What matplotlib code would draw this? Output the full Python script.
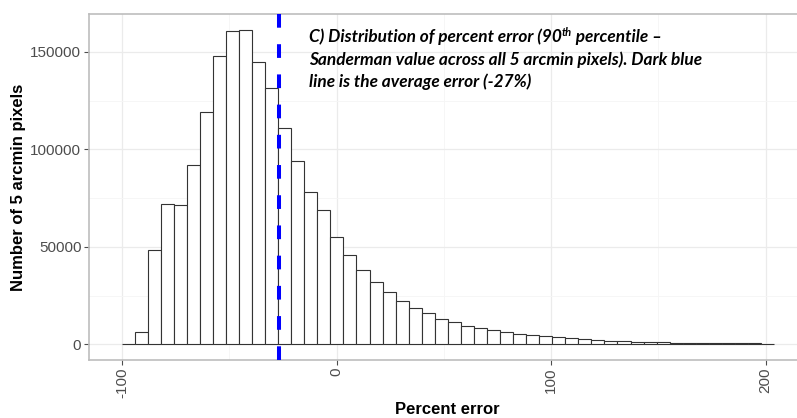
import numpy as np
import matplotlib
matplotlib.use("Agg")
import matplotlib.pyplot as plt

# histogram of percent error (counts per bin, 50 equal bins)
bin_lo, bin_hi = -100.3, 203.9
counts = [300, 6500, 48300, 72000, 71300, 92000, 119000, 148000, 160600, 161300,
          144500, 131600, 111100, 93900, 78100, 68600, 55200, 45700, 37900, 31700,
          26800, 22300, 18600, 15900, 13100, 11400, 9500, 8500, 7200, 6100,
          5300, 4500, 4100, 3600, 3100, 2600, 2100, 1700, 1500, 1200,
          1000, 1000, 850, 800, 750, 650, 550, 500, 400, 300]
mean_error = -27
x_ticks = [-100, 0, 100, 200]
y_ticks = [0, 50000, 100000, 150000]
note_lines = ["C) Distribution of percent error (90",
              "Sanderman value across all 5 arcmin pixels). Dark blue",
              "line is the average error (-27%)"]

W, H = 797, 418
fig = plt.figure(figsize=(W / 100, H / 100), dpi=100)

edges = np.linspace(bin_lo, bin_hi, len(counts) + 1)
xr = bin_hi - bin_lo
xlim = (bin_lo - 0.05 * xr, bin_hi + 0.05 * xr)
ymax = max(counts)
ylim = (-0.05 * ymax, 1.05 * ymax)

# panel: left edge at 89px, top 14px, bottom 360px, runs past the right edge
px_per_unit = 2.1447
ax_w = (xlim[1] - xlim[0]) * px_per_unit
ax = fig.add_axes([89 / W, (H - 360) / H, ax_w / W, 346 / H])

ax.bar(edges[:-1], counts, width=np.diff(edges), align="edge",
       facecolor="white", edgecolor="#333333", linewidth=0.8, zorder=2)

# average error line, dashes starting at the top of the panel
ln, = ax.plot([mean_error, mean_error], [1, 0], transform=ax.get_xaxis_transform(),
              color="#0000ff", linewidth=2.9, zorder=3)
ln.set_dashes((3.4, 4.1))
ln.set_dash_capstyle("butt")

ax.set_xlim(xlim)
ax.set_ylim(ylim)
ax.set_xticks(x_ticks)
ax.set_yticks(y_ticks)
ax.set_xticks([-50, 50, 150], minor=True)
ax.set_yticks([25000, 75000, 125000], minor=True)
ax.set_xticklabels([str(t) for t in x_ticks], rotation=90, va="top")
ax.set_yticklabels([str(t) for t in y_ticks])

ax.grid(which="major", color="#ebebeb", linewidth=0.9, zorder=0)
ax.grid(which="minor", color="#f5f5f5", linewidth=0.6, zorder=0)
ax.set_axisbelow(True)

ax.tick_params(which="major", length=3.5, width=0.8, color="#4d4d4d",
               labelcolor="#4d4d4d", labelsize=11, pad=2)
ax.tick_params(which="minor", length=0)
for lab in ax.get_xticklabels() + ax.get_yticklabels():
    lab.set_fontfamily("Liberation Sans")
for s in ax.spines.values():
    s.set_color("#bdbdbd")
    s.set_linewidth(1.2)
ax.spines["right"].set_visible(False)

fig.text(447.8 / W, 1 - 409 / H, "Percent error", ha="center", va="center",
         fontsize=12, fontweight="bold", family="Liberation Sans")
fig.text(18.5 / W, 1 - 187 / H, "Number of 5 arcmin pixels", ha="center", va="center",
         rotation=90, fontsize=12, fontweight="bold", family="Liberation Sans")

# annotation, with a raised "th" after 90
note_style = dict(fontsize=12.4, fontweight="bold", style="italic", family="Lato",
                  color="black", va="baseline", ha="left")
x0 = 309 / W
t1 = fig.text(x0, 1 - 42 / H, note_lines[0], **note_style)
fig.canvas.draw()
r = fig.canvas.get_renderer()
bb = t1.get_window_extent(r)
sup_style = dict(note_style, fontsize=8)
t2 = fig.text(bb.x1 / W, 1 - 35.5 / H, "th", **sup_style)
bb2 = t2.get_window_extent(r)
fig.text(bb2.x1 / W, 1 - 42 / H, " percentile \u2013", **note_style)
fig.text(x0, 1 - 64.5 / H, note_lines[1], **note_style)
fig.text(x0, 1 - 86.5 / H, note_lines[2], **note_style)

fig.savefig("out.png", dpi=100)
